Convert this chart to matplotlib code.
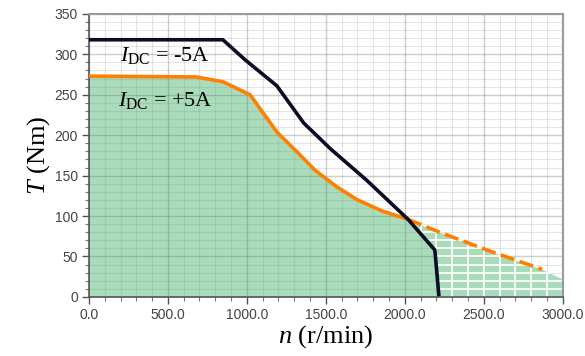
import matplotlib.pyplot as plt
from matplotlib.patches import Polygon
import numpy as np

plt.rcParams['mathtext.fontset'] = 'custom'
plt.rcParams['mathtext.it'] = 'Liberation Serif:italic'
plt.rcParams['mathtext.rm'] = 'Liberation Serif'

# I_DC = -5A torque-speed envelope
n_neg = [0, 848, 990, 1190, 1360, 1530, 1760, 2020, 2190, 2215]
T_neg = [318, 318, 293, 261, 215, 183, 144, 96, 58, 3]

# I_DC = +5A (solid part)
n_pos = [0, 680, 850, 1020, 1190, 1335, 1430, 1570, 1700, 1860, 2020]
T_pos = [273, 272, 266, 250, 204, 176, 157, 136, 120, 106, 96]

# I_DC = +5A extension (dashed)
n_ext = [2020, 2220, 2520, 2870]
T_ext = [96, 80, 58, 34]

# shaded region tail at the right edge
n_tail = [3000]
T_tail = [22]

xticks = [0, 500, 1000, 1500, 2000, 2500, 3000]
yticks = [0, 50, 100, 150, 200, 250, 300, 350]

green = '#a9dcbb'
orange = '#ff8000'
dark = '#0c0c22'
serif = ['Liberation Serif', 'DejaVu Serif']

fig = plt.figure(figsize=(5.85, 3.56), dpi=100)
ax = fig.add_axes([0.152, 0.166, 0.810, 0.795])

# grid (drawn over the fill, semi-transparent)
ax.set_xticks(np.arange(0, 3001, 100), minor=True)
ax.set_yticks(np.arange(0, 351, 10), minor=True)
ax.grid(True, which='minor', color='#8a8a8a', alpha=0.22, linewidth=0.8, zorder=1.5)
ax.grid(True, which='major', color='#707070', alpha=0.35, linewidth=1.0, zorder=1.5)

# green fill under +5A envelope
fill_n = n_pos + n_ext[1:] + n_tail
fill_T = T_pos + T_ext[1:] + T_tail
ax.fill_between(fill_n, fill_T, 0, color=green, linewidth=0, zorder=1)

# region right of the -5A curve: white grid on green
i0 = n_neg.index(2020)
clip_pts = list(zip(n_neg[i0:], T_neg[i0:])) + [(n_neg[-1], 0), (3000, 0)] \
    + list(zip(n_tail, T_tail)) + list(zip(n_ext[::-1], T_ext[::-1]))
clip = Polygon(clip_pts, closed=True, transform=ax.transData, facecolor='none', edgecolor='none')
ax.add_patch(clip)
for x in np.arange(0, 3001, 100):
    ln, = ax.plot([x, x], [0, 350], color='white', linewidth=1.3, zorder=2)
    ln.set_clip_path(clip)
for y in np.arange(0, 351, 10):
    ln, = ax.plot([0, 3000], [y, y], color='white', linewidth=1.3, zorder=2)
    ln.set_clip_path(clip)

# curves
ax.plot(n_pos, T_pos, color=orange, linewidth=2.6, zorder=3, solid_capstyle='round')
ax.plot(n_ext, T_ext, color=orange, linewidth=2.6, dashes=(4, 1.5), zorder=3)
ax.plot(n_neg, T_neg, color=dark, linewidth=2.6, zorder=4)

ax.text(480, 299, r'$I_{\mathrm{DC}}$ = -5A', fontsize=16, family=serif,
        ha='center', va='center', zorder=5)
ax.text(487, 243, r'$I_{\mathrm{DC}}$ = +5A', fontsize=16, family=serif,
        ha='center', va='center', zorder=5)

ax.set_xlim(0, 3000)
ax.set_ylim(0, 350)
ax.set_xticks(xticks)
ax.set_yticks(yticks)
ax.set_xticklabels([f'{v:.1f}' for v in xticks])
ax.set_yticklabels([str(v) for v in yticks])
ax.tick_params(which='major', direction='out', length=5, width=1, color='#555555',
               labelsize=10, labelcolor='#444444', pad=3)
ax.tick_params(which='minor', direction='out', length=3, width=0.8, color='#777777')
for lab in ax.get_xticklabels() + ax.get_yticklabels():
    lab.set_family(['Liberation Sans', 'DejaVu Sans'])

for s in ['left', 'bottom']:
    ax.spines[s].set_color('#555555')
    ax.spines[s].set_linewidth(1.2)
for s in ['top', 'right']:
    ax.spines[s].set_color('#9a9a9a')
    ax.spines[s].set_linewidth(1.5)

ax.set_xlabel(r'$n$ (r/min)', fontsize=19, family=serif, labelpad=1)
ax.set_ylabel(r'$T$ (Nm)', fontsize=19, family=serif, labelpad=2)

fig.savefig('out.png', dpi=100)
